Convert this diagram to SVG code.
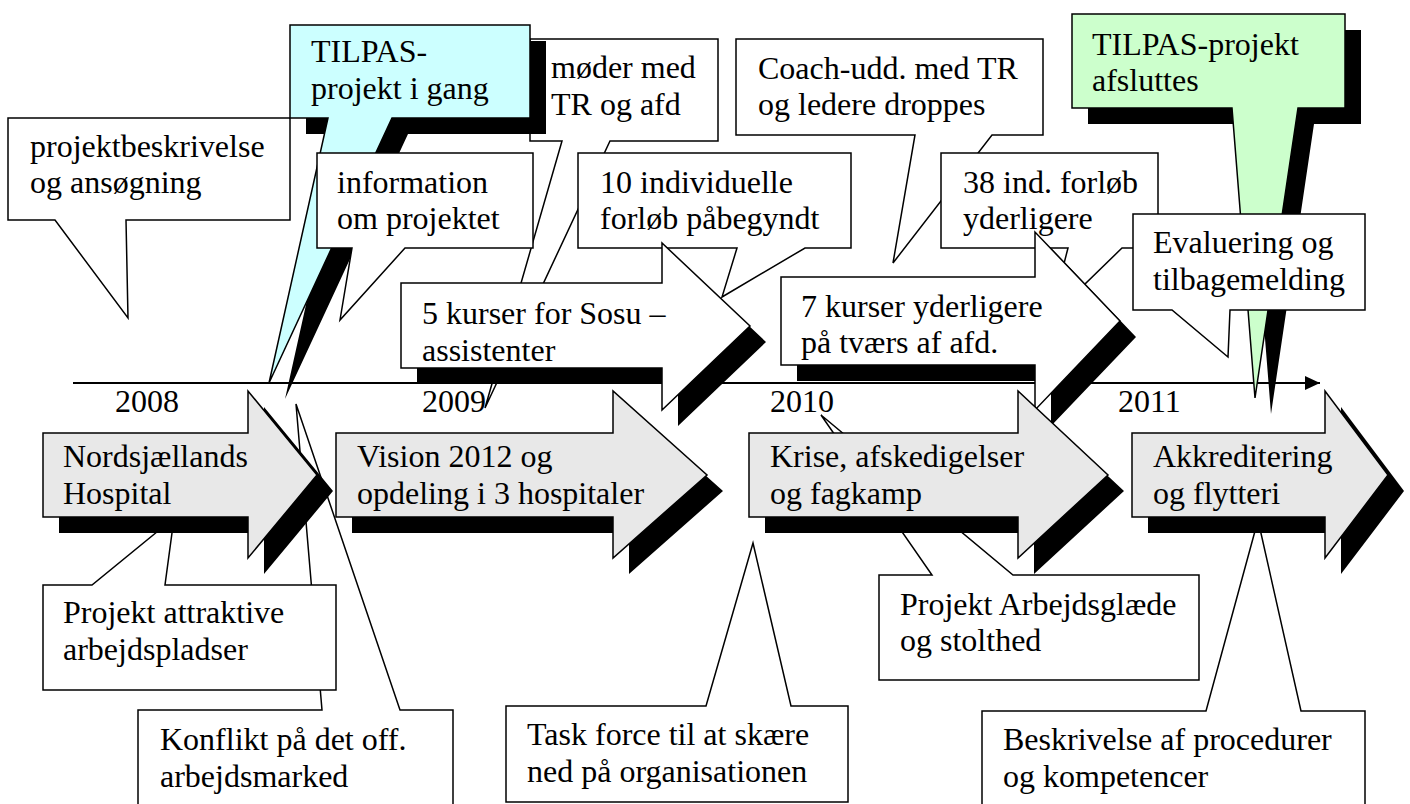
<svg xmlns="http://www.w3.org/2000/svg" width="1410" height="804" viewBox="0 0 1410 804">
<style>
.c{fill:#fff;stroke:#000;stroke-width:1.5;stroke-linejoin:miter}
.ar{fill:#e8e8e8;stroke:#000;stroke-width:1.5}
.wa{fill:#fff;stroke:#000;stroke-width:1.5}
.cy{fill:#ccffff;stroke:#000;stroke-width:1.5}
.gr{fill:#ccffcc;stroke:#000;stroke-width:1.5}
.sh{fill:#000}
text{font-family:"Liberation Serif","Times New Roman",serif;font-size:32px;fill:#000}
</style>
<defs>
<marker id="ah" markerUnits="userSpaceOnUse" markerWidth="16" markerHeight="16" refX="15" refY="8" orient="auto">
<path d="M0,1 L15,8 L0,15 Z" fill="#000"/>
</marker>
</defs>
<g id="connectors">
<line x1="73" y1="383" x2="1320" y2="383" stroke="#000" stroke-width="2" marker-end="url(#ah)"/>
</g>
<g id="years">
<text x="115" y="412">2008</text>
<text x="422" y="412">2009</text>
<text x="770" y="412">2010</text>
<text x="1118" y="412">2011</text>
</g>
<g id="konflikt">
<path class="c" d="M138 710 H322 L296 404 L400 710 H453 V830 H138 Z"/>
<text x="160" y="750">Konflikt på det off.</text>
<text x="160" y="787">arbejdsmarked</text>
</g>
<g id="projekt-attraktive">
<path class="c" d="M43 585 H92 L174 518 L165 585 H336 V690 H43 Z"/>
<text x="63" y="623">Projekt attraktive</text>
<text x="63" y="660">arbejdspladser</text>
</g>
<g id="task-force">
<path class="c" d="M506 706 H706 L753 543 L791 706 H848 V802 H506 Z"/>
<text x="527" y="745">Task force til at skære</text>
<text x="527" y="782">ned på organisationen</text>
</g>
<g id="arbejdsglaede">
<path class="c" d="M879 575 H932 L821 415 L1013 575 H1199 V680 H879 Z"/>
<text x="900" y="615">Projekt Arbejdsglæde</text>
<text x="900" y="651">og stolthed</text>
</g>
<g id="beskrivelse">
<path class="c" d="M982 711 H1206 L1258 520 L1301 711 H1365 V830 H982 Z"/>
<text x="1003" y="750">Beskrivelse af procedurer</text>
<text x="1003" y="787">og kompetencer</text>
</g>
<g id="projektbeskrivelse">
<path class="c" d="M8 118 H290 V220 H126 L128 318 L55 220 H8 Z"/>
<text x="30" y="157">projektbeskrivelse</text>
<text x="30" y="193">og ansøgning</text>
</g>
<g id="moeder">
<path class="c" d="M530 39 H718 V141 H610 L485 408 L562 141 H530 Z"/>
<text x="551" y="78">møder med</text>
<text x="551" y="115">TR og afd</text>
</g>
<g id="coach">
<path class="c" d="M736 39 H1043 V135 H992 L893 263 L915 135 H736 Z"/>
<text x="758" y="79">Coach-udd. med TR</text>
<text x="758" y="115">og ledere droppes</text>
</g>
<g id="tilpas-start">
<path class="sh" transform="translate(16,16)" d="M290 25 H530 V118 H392 L269 383 L328 118 H290 Z"/>
<path class="cy" d="M290 25 H530 V118 H392 L269 383 L328 118 H290 Z"/>
<text x="311" y="62">TILPAS-</text>
<text x="311" y="99">projekt i gang</text>
</g>
<g id="information">
<path class="c" d="M317 153 H533 V248 H405 L340 320 L352 248 H317 Z"/>
<text x="337" y="193">information</text>
<text x="337" y="229">om projektet</text>
</g>
<g id="individuelle">
<path class="c" d="M578 153 H851 V248 H805 L722 297 L737 248 H578 Z"/>
<text x="600" y="193">10 individuelle</text>
<text x="600" y="229">forløb påbegyndt</text>
</g>
<g id="kurser5">
<path class="sh" transform="translate(16,16)" d="M401 283 H662 V243 L750 326 L662 410 V368 H401 Z"/>
<path class="wa" d="M401 283 H662 V243 L750 326 L662 410 V368 H401 Z"/>
<text x="422" y="324">5 kurser for Sosu –</text>
<text x="422" y="361">assistenter</text>
</g>
<g id="ind38">
<path class="c" d="M941 153 H1158 V248 H1122 L1050 318 L1068 248 H941 Z"/>
<text x="963" y="193">38 ind. forløb</text>
<text x="963" y="229">yderligere</text>
</g>
<g id="kurser7">
<path class="sh" transform="translate(16,16)" d="M781 277 H1035 V232 L1120 321 L1035 410 V365 H781 Z"/>
<path class="wa" d="M781 277 H1035 V232 L1120 321 L1035 410 V365 H781 Z"/>
<text x="801" y="317">7 kurser yderligere</text>
<text x="801" y="353">på tværs af afd.</text>
</g>
<g id="tilpas-slut">
<path class="sh" transform="translate(16,16)" d="M1072 14 H1345 V108 H1298 L1255 398 L1232 108 H1072 Z"/>
<path class="gr" d="M1072 14 H1345 V108 H1298 L1255 398 L1232 108 H1072 Z"/>
<text x="1092" y="55">TILPAS-projekt</text>
<text x="1092" y="91">afsluttes</text>
</g>
<g id="evaluering">
<path class="c" d="M1133 214 H1365 V310 H1230 L1228 357 L1172 310 H1133 Z"/>
<text x="1153" y="253">Evaluering og</text>
<text x="1153" y="290">tilbagemelding</text>
</g>
<g id="nordsjaelland">
<path class="sh" transform="translate(16,16)" d="M43 433 H248 V391 L317 475 L248 558 V517 H43 Z"/>
<path class="ar" d="M43 433 H248 V391 L317 475 L248 558 V517 H43 Z"/>
<text x="63" y="467">Nordsjællands</text>
<text x="63" y="504">Hospital</text>
</g>
<g id="vision">
<path class="sh" transform="translate(16,16)" d="M336 433 H613 V391 L707 475 L613 558 V517 H336 Z"/>
<path class="ar" d="M336 433 H613 V391 L707 475 L613 558 V517 H336 Z"/>
<text x="357" y="467">Vision 2012 og</text>
<text x="357" y="504">opdeling i 3 hospitaler</text>
</g>
<g id="krise">
<path class="sh" transform="translate(16,16)" d="M749 433 H1018 V391 L1108 475 L1018 558 V517 H749 Z"/>
<path class="ar" d="M749 433 H1018 V391 L1108 475 L1018 558 V517 H749 Z"/>
<text x="770" y="467">Krise, afskedigelser</text>
<text x="770" y="504">og fagkamp</text>
</g>
<g id="akkreditering">
<path class="sh" transform="translate(16,16)" d="M1132 433 H1325 V391 L1388 475 L1325 558 V517 H1132 Z"/>
<path class="ar" d="M1132 433 H1325 V391 L1388 475 L1325 558 V517 H1132 Z"/>
<text x="1153" y="467">Akkreditering</text>
<text x="1153" y="504">og flytteri</text>
</g>
</svg>
